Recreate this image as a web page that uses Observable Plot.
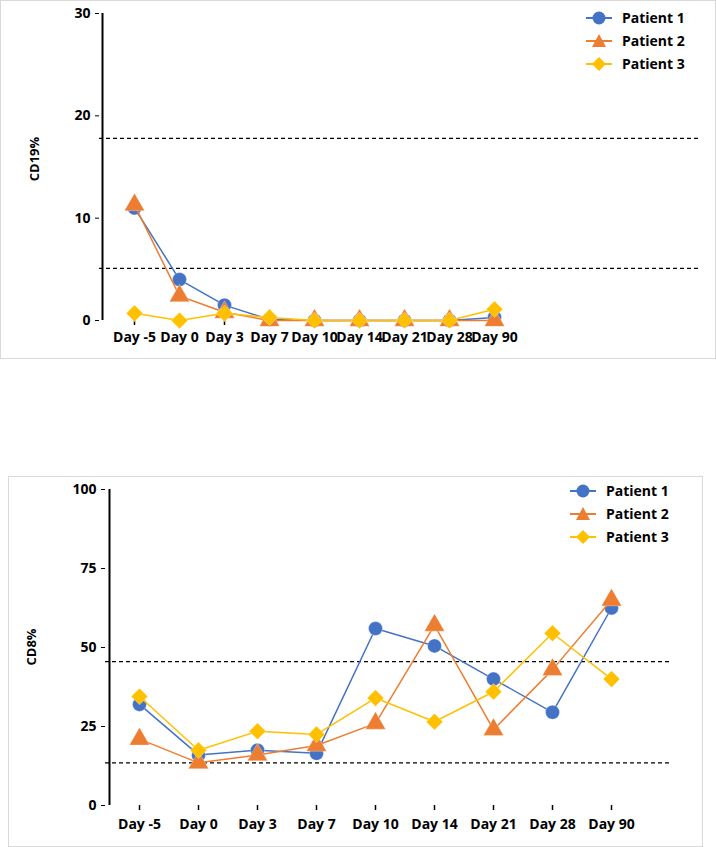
<!DOCTYPE html>
<html><head><meta charset="utf-8">
<script src="https://cdn.jsdelivr.net/npm/d3@7"></script>
<script src="https://cdn.jsdelivr.net/npm/@observablehq/plot@0.6"></script>
<style>
body{margin:0;background:#fff;font-family:"Open Sans",sans-serif;}
#wrap{position:relative;width:716px;height:847px;}
.box{position:absolute;border:1px solid #d9d9d9;}
.abs{position:absolute;left:0;}
.leg{position:absolute;font:bold 14px "Open Sans",sans-serif;}
.leg div{display:flex;align-items:center;height:23px;}
.ylab{position:absolute;font:bold 13px "Open Sans",sans-serif;transform:rotate(-90deg);transform-origin:center;}
svg text{font-family:"Open Sans",sans-serif;}
</style></head><body>
<div id="wrap">
<div class="box" style="left:0;top:0;width:714px;height:357px"></div>
<div class="box" style="top:476px;left:8px;width:693px;height:369px"></div>
<div id="p1" class="abs" style="top:0"></div>
<div id="p2" class="abs" style="top:476px"></div>
<div class="ylab" style="left:12px;top:150px">CD19%</div>
<div class="ylab" style="left:12px;top:638px">CD8%</div>
<div class="leg" id="l1" style="left:584px;top:6px"></div>
<div class="leg" id="l2" style="left:568px;top:479px"></div>
</div>
<script>
const days = ["Day -5","Day 0","Day 3","Day 7","Day 10","Day 14","Day 21","Day 28","Day 90"];
const patients = ["Patient 1","Patient 2","Patient 3"];
const colors = ["#4472C4","#ED7D31","#FFC000"];
const symbols = ["circle","triangle","diamond2"];
const cd19P1 = [11, 4, 1.5, 0.1, 0, 0, 0, 0, 0.3];
const cd19P2 = [11.3, 2.4, 0.8, 0, 0, 0, 0, 0, 0];
const cd19P3 = [0.7, 0, 0.7, 0.3, 0, 0, 0, 0, 1.1];
const cd19Ref = [17.8, 5.1];
const cd8P1 = [32, 16, 17.5, 16.5, 56, 50.5, 40, 29.5, 62.5];
const cd8P2 = [21, 13.5, 16, 19, 26, 57, 24, 43, 65];
const cd8P3 = [34.5, 17.5, 23.5, 22.5, 34, 26.5, 36, 54.5, 40];
const cd8Ref = [45.5, 13.5];

function rows(series){
  return series.flatMap((s,i)=>s.map((v,j)=>({day:days[j],v,p:patients[i]})));
}
function chart(series, ref, opt){
  const data = rows(series);
  const marks = [
    Plot.ruleY(ref,{stroke:"#000",strokeDasharray:"4,3",strokeWidth:1.2}),
    Plot.ruleY([opt.ymin],{x1:days[0],x2:days[8],insetLeft:-opt.il,insetRight:-opt.ir,stroke:"#000",strokeWidth:2}),
    Plot.ruleX([days[0]],{y1:opt.ymin,y2:opt.ymax,dx:-opt.il,stroke:"#000",strokeWidth:2}),
    Plot.ruleX(days,{x:d=>d,y1:opt.ymin,y2:opt.ymin,insetBottom:-5,stroke:"#000",strokeWidth:1.5}),
    Plot.axisX({tickSize:0,tickPadding:opt.tp,fontSize:14,fontWeight:"bold"}),
    Plot.axisY({ticks:opt.ticks,tickSize:4,fontSize:14,fontWeight:"bold",label:null}),
  ];
  patients.forEach((p,i)=>{
    const d = data.filter(r=>r.p===p);
    marks.push(Plot.line(d,{x:"day",y:"v",stroke:colors[i],strokeWidth:1.5}));
    marks.push(Plot.dot(d,{x:"day",y:"v",fill:colors[i],symbol:()=>symbols[i],r:i===0?7:7.5,stroke:"#fff",strokeWidth:0.3}));
  });
  return Plot.plot({
    width:716,height:opt.h,marginLeft:opt.ml,marginRight:opt.mr,marginTop:13,marginBottom:opt.mb,
    x:{type:"point",domain:days,range:opt.range,padding:0,label:null},
    y:{type:"linear",domain:[opt.ymin,opt.ymax],label:null},
    symbol:{type:"identity"},
    style:{background:"transparent",color:"#000",overflow:"visible"},
    marks
  });
}
document.getElementById("p1").append(chart([cd19P1,cd19P2,cd19P3],cd19Ref,{h:358,ml:99,mr:16,mb:38,range:[131,497],il:32,ir:158,ymin:0,ymax:30,ticks:[0,10,20,30],tp:12}));
document.getElementById("p2").append(chart([cd8P1,cd8P2,cd8P3],cd8Ref,{h:371,ml:105,mr:46,mb:42,range:[135,614],il:30,ir:30,ymin:0,ymax:100,ticks:[0,25,50,75,100],tp:14}));

function legend(id){
  const el=document.getElementById(id);
  const shapes=[
    c=>`<circle cx="15" cy="9" r="6.5" fill="${c}"/>`,
    c=>`<path d="M15,2 L22,15 L8,15Z" fill="${c}"/>`,
    c=>`<path d="M15,2 L22,9 L15,16 L8,9Z" fill="${c}"/>`];
  patients.forEach((p,i)=>{
    el.insertAdjacentHTML("beforeend",`<div><svg width="34" height="18"><line x1="2" x2="28" y1="9" y2="9" stroke="${colors[i]}" stroke-width="2"/>${shapes[i](colors[i])}</svg><span style="margin-left:4px">${p}</span></div>`);
  });
}
legend("l1");legend("l2");
</script>
</body></html>
